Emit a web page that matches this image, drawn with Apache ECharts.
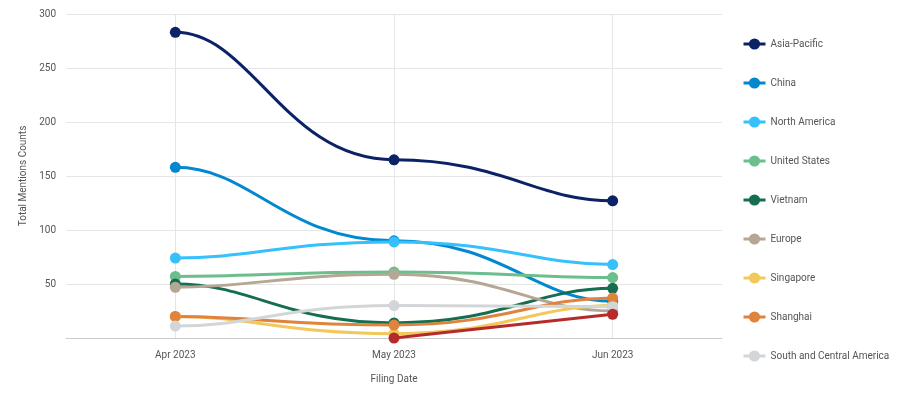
<!DOCTYPE html>
<html>
<head>
<meta charset="utf-8">
<script src="https://cdn.jsdelivr.net/npm/echarts@6/dist/echarts.min.js"></script>
<style>
  html, body { margin: 0; padding: 0; background: #fff; }
  #chart { width: 923px; height: 399px; }
</style>
</head>
<body>
<div id="chart"></div>
<script>
// months on the x axis
const months = ['Apr 2023', 'May 2023', 'Jun 2023'];

// mentions per region
const asiaPacific = [283, 165, 127];
const china = [158, 90, 34];
const northAmerica = [74, 89, 68];
const unitedStates = [57, 61, 56];
const vietnam = [50, 14, 46];
const europe = [47, 59, 25];
const singapore = [20, 4, 30];
const shanghai = [20, 12, 37];
const southCentralAmerica = [11, 30, 29];
const otherRegion = [null, 0, 22];

const names = ['Asia-Pacific', 'China', 'North America', 'United States', 'Vietnam',
  'Europe', 'Singapore', 'Shanghai', 'South and Central America'];
const colors = ['#0c2266', '#0288d1', '#36c0fc', '#6cbf8c', '#146e4f',
  '#b5a794', '#f2c85b', '#e0833d', '#d3d6d9'];
const values = [asiaPacific, china, northAmerica, unitedStates, vietnam,
  europe, singapore, shanghai, southCentralAmerica];

const font = 'Roboto, "Noto Sans", sans-serif';

// split a series into [x0, y0, x1, y1, isFirst, isLast] segments for the curve renderer
function segmentsOf(d) {
  let segs = [];
  for (let i = 0; i < d.length - 1; i++) {
    if (d[i] != null && d[i + 1] != null) {
      segs.push([i, d[i], i + 1, d[i + 1], i === 0 ? 1 : 0, i + 1 === d.length - 1 ? 1 : 0]);
    }
  }
  return segs;
}

// curve with flat handles at every point, shorter at the ends
function curveRenderer(color) {
  return function (params, api) {
    let a = api.coord([api.value(0), api.value(1)]);
    let b = api.coord([api.value(2), api.value(3)]);
    let dx = b[0] - a[0];
    let h0 = dx * (api.value(4) ? 0.35 : 0.5);
    let h1 = dx * (api.value(5) ? 0.35 : 0.5);
    return {
      type: 'bezierCurve',
      shape: {
        x1: a[0], y1: a[1], x2: b[0], y2: b[1],
        cpx1: a[0] + h0, cpy1: a[1], cpx2: b[0] - h1, cpy2: b[1]
      },
      style: { stroke: color, lineWidth: 3, fill: 'none' }
    };
  };
}

let series = [];
values.forEach(function (d, i) {
  series.push({
    type: 'custom',
    silent: true,
    data: segmentsOf(d),
    encode: { x: [0, 2], y: [1, 3] },
    renderItem: curveRenderer(colors[i]),
    z: 2
  });
});
// red series drawn last, not listed in the legend
series.push({
  name: 'Other',
  type: 'line',
  data: otherRegion,
  symbol: 'circle',
  symbolSize: 11,
  lineStyle: { width: 3, color: '#b52b2b' },
  itemStyle: { color: '#b52b2b' },
  z: 4
});
values.forEach(function (d, i) {
  series.push({
    name: names[i],
    type: 'line',
    data: d,
    symbol: 'circle',
    symbolSize: 11,
    lineStyle: { width: 3, color: colors[i], opacity: 0 },
    itemStyle: { color: colors[i] },
    z: 3
  });
});

let chart = echarts.init(document.getElementById('chart'));
let option = {
  animation: false,
  color: colors,
  grid: { left: 66, right: 201, top: 14, bottom: 61 },
  legend: {
    data: names,
    orient: 'vertical',
    left: 737,
    top: 32,
    itemWidth: 22,
    itemHeight: 14,
    itemGap: 25,
    lineStyle: { opacity: 1, width: 3 },
    textStyle: { fontFamily: font, fontSize: 10, color: '#555', lineHeight: 14 }
  },
  xAxis: {
    type: 'category',
    data: months,
    name: 'Filing Date',
    nameLocation: 'middle',
    nameGap: 36,
    nameTextStyle: { fontFamily: font, fontSize: 10, color: '#555' },
    axisLine: { lineStyle: { color: '#ccc' } },
    axisTick: { show: false, alignWithLabel: true },
    axisLabel: { fontFamily: font, fontSize: 10, color: '#555', margin: 12 },
    splitLine: { show: true, alignWithLabel: true, lineStyle: { color: '#e6e6e6' } }
  },
  yAxis: {
    type: 'value',
    min: 0,
    max: 300,
    interval: 50,
    name: 'Total Mentions Counts',
    nameLocation: 'middle',
    nameGap: 38,
    nameTextStyle: { fontFamily: font, fontSize: 10, color: '#555' },
    axisLine: { show: false },
    axisTick: { show: false },
    axisLabel: { fontFamily: font, fontSize: 10, color: '#555', showMinLabel: false, margin: 10 },
    splitLine: { lineStyle: { color: '#e6e6e6' } }
  },
  series: series
};
chart.setOption(option);
</script>
</body>
</html>
